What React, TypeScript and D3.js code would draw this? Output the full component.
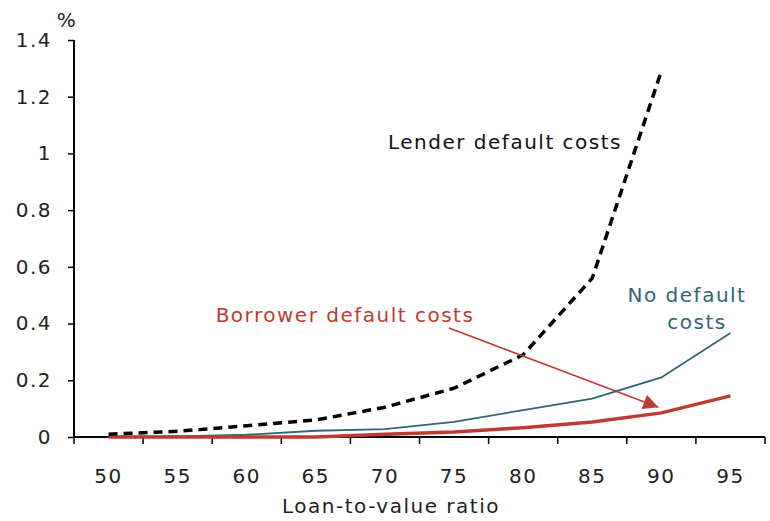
import { useEffect, useRef } from 'react';
import * as d3 from 'd3';

const ltv = ['50', '55', '60', '65', '70', '75', '80', '85', '90', '95'];
const lender = [0.01, 0.02, 0.04, 0.06, 0.105, 0.172, 0.29, 0.56, 1.29];
const noDefault = [0, 0.002, 0.008, 0.022, 0.028, 0.053, 0.095, 0.135, 0.21, 0.367];
const borrower = [0, 0, 0, 0, 0.01, 0.018, 0.033, 0.053, 0.085, 0.145];
const yTicks = [0, 0.2, 0.4, 0.6, 0.8, 1, 1.2, 1.4];

const RED = '#be3a34';
const TEAL = '#2f6577';

const App = () => {
  const ref = useRef(null);

  useEffect(() => {
    const W = 770, H = 521;
    const left = 74, right = 765, top = 40, bottom = 437;
    const font = '"DejaVu Sans", Verdana, sans-serif';
    const fs = 20, ls = 1.5;

    d3.select(ref.current).selectAll('*').remove();
    const svg = d3.select(ref.current)
      .append('svg')
      .attr('width', W)
      .attr('height', H)
      .style('position', 'absolute')
      .style('left', 0)
      .style('top', 0)
      .style('font-family', font);

    const x = d3.scaleBand().domain(ltv).range([left, right]);
    const y = d3.scaleLinear().domain([0, 1.4]).range([bottom, top]);
    const cx = (i) => x(ltv[i]) + x.bandwidth() / 2;

    const label = (tx, ty, txt, color) =>
      svg.append('text').attr('x', tx).attr('y', ty).attr('text-anchor', 'middle')
        .attr('font-size', fs).attr('letter-spacing', ls).attr('fill', color).text(txt);

    // y axis
    const yAxis = svg.append('g').attr('transform', `translate(${left},0)`)
      .call(d3.axisLeft(y).tickValues(yTicks).tickSize(6).tickPadding(16).tickFormat(d3.format('')));
    yAxis.select('.domain').attr('stroke', '#000').attr('stroke-width', 2).attr('d', `M0,${top}V${bottom}`);
    yAxis.selectAll('.tick line').attr('stroke', '#000').attr('stroke-width', 1.5);
    yAxis.selectAll('.tick text').attr('font-size', fs).attr('letter-spacing', ls)
      .attr('font-family', font).attr('fill', '#222');

    // x axis, ticks between categories
    const xg = svg.append('g');
    xg.append('line').attr('x1', left).attr('x2', right).attr('y1', bottom).attr('y2', bottom)
      .attr('stroke', '#000').attr('stroke-width', 2);
    const edges = ltv.map(d => x(d)).concat([right]);
    xg.selectAll('line.t').data(edges).join('line')
      .attr('class', 't')
      .attr('x1', d => d).attr('x2', d => d)
      .attr('y1', bottom).attr('y2', bottom + 7)
      .attr('stroke', '#000').attr('stroke-width', 1.5);
    xg.selectAll('text').data(ltv).join('text')
      .attr('x', d => x(d) + x.bandwidth() / 2)
      .attr('y', 483)
      .attr('text-anchor', 'middle')
      .attr('font-size', fs)
      .attr('letter-spacing', ls)
      .attr('fill', '#222')
      .text(d => d);

    label(391, 513, 'Loan-to-value ratio', '#222');
    label(67, 27, '%', '#222');

    const line = d3.line().x((d, i) => cx(i)).y(d => y(d));

    svg.append('path').datum(noDefault).attr('d', line)
      .attr('fill', 'none').attr('stroke', TEAL).attr('stroke-width', 1.8);
    svg.append('path').datum(borrower).attr('d', line)
      .attr('fill', 'none').attr('stroke', RED).attr('stroke-width', 3.5);
    svg.append('path').datum(lender).attr('d', line)
      .attr('fill', 'none').attr('stroke', '#000').attr('stroke-width', 3.5)
      .attr('stroke-dasharray', '9,6');

    // labels
    label(505, 149, 'Lender default costs', '#111');
    label(345, 322, 'Borrower default costs', RED);
    label(687, 302, 'No default', TEAL);
    label(697, 329, 'costs', TEAL);

    // arrow from borrower label to its line
    svg.append('defs').append('marker')
      .attr('id', 'ah').attr('viewBox', '0 0 10 10').attr('refX', 10).attr('refY', 5)
      .attr('markerWidth', 16).attr('markerHeight', 15).attr('markerUnits', 'userSpaceOnUse')
      .attr('orient', 'auto')
      .append('path').attr('d', 'M0,0L10,5L0,10Z').attr('fill', RED);
    svg.append('line')
      .attr('x1', 449).attr('y1', 328)
      .attr('x2', x('90') + x.bandwidth() / 2 - 3).attr('y2', y(0.105))
      .attr('stroke', RED).attr('stroke-width', 1.5)
      .attr('marker-end', 'url(#ah)');
  }, []);

  return <div ref={ref}></div>;
};

export default App;
